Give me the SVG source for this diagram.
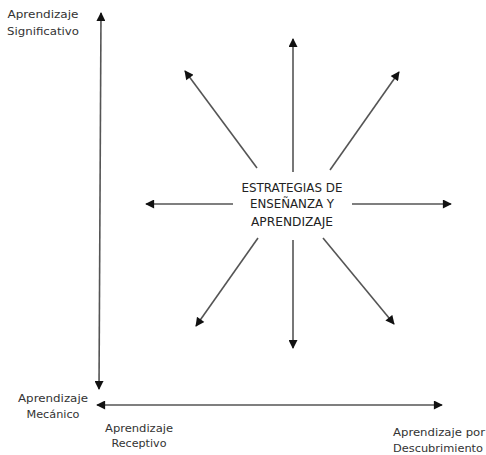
<svg xmlns="http://www.w3.org/2000/svg" width="486" height="455" viewBox="0 0 486 455">
<style>
text{font-family:"DejaVu Sans Condensed","Liberation Sans",sans-serif;font-size:11px;fill:#333;text-anchor:middle}
.c{font-size:11.5px;fill:#222}
line{stroke:#555;stroke-width:1.6}
</style>
<defs>
<marker id="ah" viewBox="0 0 10 10" refX="9" refY="5" markerWidth="10" markerHeight="9" markerUnits="userSpaceOnUse" orient="auto">
<path d="M0,0 L10,5 L0,10 Z" fill="#111"/>
</marker>
</defs>
<rect width="486" height="455" fill="#fff"/>
<g id="connectors">
<line x1="100" y1="200" x2="101" y2="13" marker-end="url(#ah)"/>
<line x1="100" y1="200" x2="99" y2="389" marker-end="url(#ah)"/>
<line x1="270" y1="405" x2="97" y2="405" marker-end="url(#ah)"/>
<line x1="270" y1="405" x2="442" y2="405" marker-end="url(#ah)"/>
<line x1="293" y1="172" x2="293" y2="39" marker-end="url(#ah)"/>
<line x1="257" y1="168" x2="185" y2="71" marker-end="url(#ah)"/>
<line x1="330" y1="170" x2="399" y2="72" marker-end="url(#ah)"/>
<line x1="233" y1="204" x2="146" y2="204" marker-end="url(#ah)"/>
<line x1="352" y1="204" x2="451" y2="204" marker-end="url(#ah)"/>
<line x1="258" y1="238" x2="196" y2="326" marker-end="url(#ah)"/>
<line x1="293" y1="240" x2="293" y2="348" marker-end="url(#ah)"/>
<line x1="323" y1="238" x2="394" y2="324" marker-end="url(#ah)"/>
</g>
<g id="center">
<text class="c" x="292" y="192" textLength="101" lengthAdjust="spacingAndGlyphs">ESTRATEGIAS DE</text>
<text class="c" x="292" y="208" textLength="84" lengthAdjust="spacingAndGlyphs">ENSEÑANZA Y</text>
<text class="c" x="292" y="226" textLength="82" lengthAdjust="spacingAndGlyphs">APRENDIZAJE</text>
</g>
<g id="significativo">
<text x="43" y="18" textLength="71" lengthAdjust="spacingAndGlyphs">Aprendizaje</text>
<text x="43" y="35" textLength="72" lengthAdjust="spacingAndGlyphs">Significativo</text>
</g>
<g id="mecanico">
<text x="53" y="402" textLength="70" lengthAdjust="spacingAndGlyphs">Aprendizaje</text>
<text x="53" y="418" textLength="53" lengthAdjust="spacingAndGlyphs">Mecánico</text>
</g>
<g id="receptivo">
<text x="139" y="432" textLength="68" lengthAdjust="spacingAndGlyphs">Aprendizaje</text>
<text x="139" y="447" textLength="55" lengthAdjust="spacingAndGlyphs">Receptivo</text>
</g>
<g id="descubrimiento">
<text x="439" y="436" textLength="92" lengthAdjust="spacingAndGlyphs">Aprendizaje por</text>
<text x="438" y="452" textLength="90" lengthAdjust="spacingAndGlyphs">Descubrimiento</text>
</g>
</svg>
